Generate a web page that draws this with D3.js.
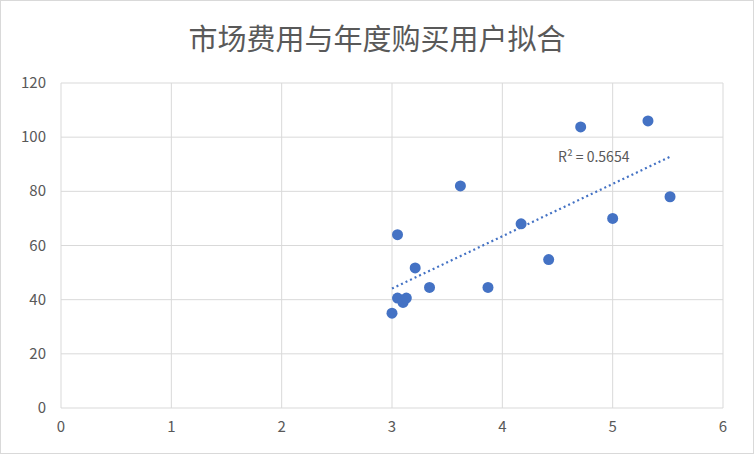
<!DOCTYPE html>
<html lang="zh">
<head>
<meta charset="UTF-8">
<title>市场费用与年度购买用户拟合</title>
<style>
  body { margin: 0; background: #fff; }
  text { font-family: "Noto Sans CJK SC", "DejaVu Sans", sans-serif; fill: #595959; }
</style>
</head>
<body>
<script src="https://d3js.org/d3.v7.min.js"></script>
<script>
const xValues = [3.0, 3.05, 3.05, 3.1, 3.13, 3.21, 3.34, 3.62, 3.87, 4.17, 4.42, 4.71, 5.0, 5.32, 5.52];
const yValues = [35, 64, 40.6, 39, 40.6, 51.7, 44.5, 82, 44.5, 68, 54.8, 103.8, 70, 106, 78];
const xTicks = [0, 1, 2, 3, 4, 5, 6];
const yTicks = [0, 20, 40, 60, 80, 100, 120];
const title = "市场费用与年度购买用户拟合";
const r2Label = "R² = 0.5654";

const W = 754, H = 454;
const svg = d3.select("body").append("svg").attr("width", W).attr("height", H);

svg.append("rect").attr("x", 0.5).attr("y", 0.5).attr("width", W - 1).attr("height", H - 1)
    .attr("fill", "#fff").attr("stroke", "#d9d9d9");

svg.append("text").attr("x", 377).attr("y", 50).attr("text-anchor", "middle")
    .attr("font-size", 29).text(title);

const x = d3.scaleLinear().domain([0, 6]).range([61, 723]);
const y = d3.scaleLinear().domain([0, 120]).range([408, 83]);

// grid
svg.selectAll(".gx").data(xTicks).enter().append("line")
    .attr("x1", d => x(d)).attr("x2", d => x(d)).attr("y1", y(0)).attr("y2", y(120))
    .attr("stroke", "#d9d9d9");
svg.selectAll(".gy").data(yTicks).enter().append("line")
    .attr("x1", x(0)).attr("x2", x(6)).attr("y1", d => y(d)).attr("y2", d => y(d))
    .attr("stroke", "#d9d9d9");

// tick labels
svg.selectAll(".tx").data(xTicks).enter().append("text")
    .attr("x", d => x(d)).attr("y", 432).attr("text-anchor", "middle")
    .attr("font-size", 15).text(d => d);
svg.selectAll(".ty").data(yTicks).enter().append("text")
    .attr("x", 46).attr("y", d => y(d) + 5).attr("text-anchor", "end")
    .attr("font-size", 15).text(d => d);

// linear fit
const n = xValues.length;
const mx = d3.mean(xValues), my = d3.mean(yValues);
let sxy = 0, sxx = 0;
for (let i = 0; i < n; i++) { sxy += (xValues[i] - mx) * (yValues[i] - my); sxx += (xValues[i] - mx) ** 2; }
const slope = sxy / sxx, icpt = my - slope * mx;
const [x0, x1] = d3.extent(xValues);
svg.append("line")
    .attr("x1", x(x0)).attr("y1", y(icpt + slope * x0))
    .attr("x2", x(x1)).attr("y2", y(icpt + slope * x1))
    .attr("stroke", "#4472C4").attr("stroke-width", 2.2).attr("stroke-dasharray", "2,3");

svg.selectAll(".pt").data(xValues).enter().append("circle")
    .attr("cx", d => x(d)).attr("cy", (d, i) => y(yValues[i])).attr("r", 5.5)
    .attr("fill", "#4472C4");

svg.append("text").attr("x", 558).attr("y", 162).attr("font-size", 14).text(r2Label);
</script>
</body>
</html>
